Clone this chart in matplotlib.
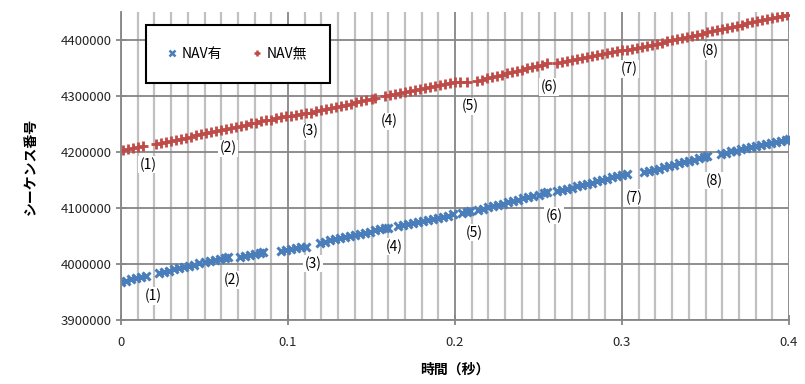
import numpy as np
import matplotlib as mpl
import matplotlib.pyplot as plt
from matplotlib.ticker import MultipleLocator

mpl.rcParams['font.family'] = ['Noto Sans CJK JP', 'DejaVu Sans']
mpl.rcParams['font.size'] = 9.5

# NAV有 (blue x), one row per burst
nav_on_t = [0.000, 0.003, 0.006, 0.009, 0.012, 0.015,
            0.023, 0.026, 0.029, 0.032, 0.035, 0.038, 0.041, 0.044, 0.047, 0.050, 0.053, 0.056, 0.059, 0.062, 0.064,
            0.071, 0.074, 0.077, 0.080, 0.083, 0.085,
            0.096, 0.099, 0.102, 0.105, 0.108, 0.111,
            0.119, 0.122, 0.125, 0.128, 0.131, 0.134, 0.137, 0.140, 0.143, 0.146, 0.149, 0.152, 0.155, 0.158, 0.160,
            0.166, 0.169, 0.172, 0.175, 0.178, 0.181, 0.184, 0.187, 0.190, 0.193, 0.196, 0.199, 0.204, 0.207, 0.209,
            0.214, 0.217, 0.220, 0.223, 0.226, 0.229, 0.232, 0.235, 0.238, 0.241, 0.244, 0.247, 0.250, 0.253, 0.255,
            0.261, 0.264, 0.267, 0.270, 0.273, 0.276, 0.279, 0.282, 0.285, 0.288, 0.291, 0.294, 0.297, 0.300, 0.303,
            0.313, 0.316, 0.319, 0.322, 0.325, 0.328, 0.331, 0.334, 0.337, 0.340, 0.343, 0.346, 0.349, 0.351,
            0.359, 0.362, 0.365, 0.368, 0.371, 0.374, 0.377, 0.380, 0.383, 0.386, 0.389, 0.392, 0.395, 0.398, 0.400]
nav_on_seq = [3968000, 3970000, 3972500, 3974500, 3977000, 3979000,
              3984000, 3986000, 3988000, 3990500, 3992500, 3994500, 3996500, 3998500, 4001000, 4003000, 4005000, 4007000, 4009000, 4011500, 4013000,
              4012000, 4014000, 4016000, 4018000, 4020000, 4021000,
              4024000, 4025500, 4027000, 4028500, 4030000, 4031000,
              4038000, 4040000, 4042000, 4044000, 4046000, 4048000, 4050000, 4052000, 4054000, 4056000, 4058000, 4060000, 4062000, 4064000, 4065000,
              4067000, 4069000, 4071000, 4073000, 4075000, 4077000, 4078500, 4080500, 4082500, 4084500, 4086500, 4088500, 4091500, 4093500, 4094500,
              4096000, 4098500, 4101000, 4103000, 4105500, 4107500, 4110000, 4112500, 4114500, 4117000, 4119500, 4121500, 4124000, 4126500, 4128000,
              4130000, 4132000, 4134500, 4136500, 4139000, 4141000, 4143000, 4145500, 4147500, 4150000, 4152000, 4154500, 4156500, 4159000, 4161000,
              4164000, 4166000, 4168500, 4170500, 4173000, 4175000, 4177000, 4179500, 4181500, 4184000, 4186000, 4188500, 4190500, 4192000,
              4197000, 4199000, 4201000, 4202500, 4204500, 4206500, 4208500, 4210500, 4212500, 4214500, 4216000, 4218000, 4220000, 4222000, 4223000]

# NAV無 (red +)
nav_off_t = [0.001, 0.004, 0.007, 0.010, 0.013,
             0.021, 0.024, 0.027, 0.030, 0.033, 0.036, 0.039, 0.042, 0.045, 0.048, 0.051, 0.054, 0.057, 0.060, 0.063,
             0.066, 0.069, 0.072, 0.075, 0.078, 0.081, 0.084, 0.087, 0.090, 0.093, 0.096, 0.099, 0.102, 0.105, 0.108,
             0.111, 0.114, 0.117, 0.120, 0.123, 0.126, 0.129, 0.132, 0.135, 0.138, 0.141, 0.144, 0.147, 0.150, 0.152,
             0.158, 0.161, 0.164, 0.167, 0.170, 0.173, 0.176, 0.179, 0.182, 0.185, 0.188, 0.191, 0.194, 0.197, 0.200, 0.203, 0.207,
             0.213, 0.216, 0.219, 0.222, 0.225, 0.228, 0.231, 0.234, 0.237, 0.240, 0.243, 0.246, 0.249, 0.252, 0.255,
             0.261, 0.264, 0.267, 0.270, 0.273, 0.276, 0.279, 0.282, 0.285, 0.288, 0.291, 0.294, 0.297, 0.300, 0.303, 0.306,
             0.309, 0.312, 0.315, 0.318, 0.321, 0.324, 0.327, 0.330, 0.333, 0.336, 0.339, 0.342, 0.345, 0.348, 0.351,
             0.354, 0.357, 0.360, 0.363, 0.366, 0.369, 0.372, 0.375, 0.378, 0.381, 0.384, 0.387, 0.390, 0.393, 0.396, 0.399]
nav_off_seq = [4203000, 4205000, 4206500, 4208500, 4210000,
               4213500, 4215500, 4217500, 4219500, 4221500, 4223500, 4225500, 4227500, 4229500, 4231500, 4233500, 4235500, 4237500, 4239500, 4241500,
               4243000, 4245000, 4247000, 4249000, 4251000, 4252500, 4254500, 4256500, 4258000, 4260000, 4262000, 4263500, 4264500, 4266000, 4267500,
               4269000, 4270500, 4272500, 4274500, 4276500, 4278500, 4280500, 4282500, 4284500, 4286500, 4288500, 4290500, 4292500, 4294500, 4296000,
               4299500, 4301500, 4303500, 4305000, 4307000, 4309000, 4311000, 4313000, 4314500, 4316500, 4318500, 4320000, 4321500, 4323000, 4324500, 4325000, 4325500,
               4327000, 4329000, 4331500, 4333500, 4336000, 4338000, 4340500, 4342500, 4345000, 4347000, 4349500, 4351500, 4354000, 4356000, 4358500,
               4359500, 4361000, 4363000, 4364500, 4366500, 4368000, 4370000, 4371500, 4373500, 4375000, 4377000, 4378500, 4380500, 4382000, 4383000, 4384000,
               4385500, 4387500, 4389500, 4391500, 4393500, 4395500, 4397500, 4399500, 4401500, 4403500, 4405500, 4407500, 4409500, 4411500, 4413500,
               4415500, 4417500, 4419500, 4421500, 4423500, 4425500, 4427500, 4429500, 4431500, 4433500, 4435500, 4437500, 4439000, 4441000, 4443000, 4445000]

# gap labels
gap_names = ['(1)', '(2)', '(3)', '(4)', '(5)', '(6)', '(7)', '(8)']
on_label_t = [0.0192, 0.0665, 0.1150, 0.1635, 0.2114, 0.2593, 0.3072, 0.3551]
on_label_seq = [3943000, 3971700, 4000400, 4030800, 4055900, 4086400, 4118600, 4149100]
off_label_t = [0.0162, 0.0641, 0.1132, 0.1605, 0.2090, 0.2563, 0.3042, 0.3527]
off_label_seq = [4177800, 4206500, 4236900, 4254800, 4281700, 4315800, 4348000, 4380300]

blue = '#4a7ebb'
red = '#be4b48'

fig = plt.figure(figsize=(8.05, 3.84), dpi=100)
ax = fig.add_axes([121/805, 1-320/384, 668/805, 308/384])

ax.plot(nav_on_t, nav_on_seq, ls='none', marker='x', ms=5.5, mew=2.2, color=blue, label='NAV有')
ax.plot(nav_off_t, nav_off_seq, ls='none', marker='+', ms=6.5, mew=2, color=red, label='NAV無')

for name, t, s in zip(gap_names, on_label_t, on_label_seq):
    ax.text(t, s, name, ha='center', va='center', fontsize=10, color='black',
            bbox=dict(facecolor='white', edgecolor='none', pad=1))
for name, t, s in zip(gap_names, off_label_t, off_label_seq):
    ax.text(t, s, name, ha='center', va='center', fontsize=10, color='black',
            bbox=dict(facecolor='white', edgecolor='none', pad=1))

ax.set_xlim(0, 0.4)
ax.set_ylim(3900000, 4450000)
ax.xaxis.set_major_locator(MultipleLocator(0.1))
ax.xaxis.set_minor_locator(MultipleLocator(0.01))
ax.yaxis.set_major_locator(MultipleLocator(100000))
ax.xaxis.set_major_formatter(mpl.ticker.FuncFormatter(lambda v, p: '0' if v == 0 else f'{v:g}'))
ax.yaxis.set_major_formatter(mpl.ticker.FuncFormatter(lambda v, p: f'{int(v)}'))

ax.grid(which='minor', axis='x', color='#c0c0c0', lw=1.6, zorder=0)
ax.grid(which='major', axis='x', color='#868686', lw=1.3, zorder=0)
ax.grid(which='major', axis='y', color='#868686', lw=1.3, zorder=0)
ax.set_axisbelow(True)

for side in ['top', 'right']:
    ax.spines[side].set_visible(False)
for side in ['left', 'bottom']:
    ax.spines[side].set_color('#868686')
    ax.spines[side].set_linewidth(1.3)

ax.tick_params(axis='both', which='major', direction='inout', length=7, width=1.3,
               color='#868686', labelcolor='#262626', labelsize=9.5)
ax.tick_params(axis='x', which='major', pad=8)
ax.tick_params(axis='both', which='minor', length=0)

ax.set_xlabel('時間（秒）', fontsize=10, fontweight='bold', labelpad=10)
ax.set_ylabel('シーケンス番号', fontsize=10, fontweight='bold', labelpad=16)

leg = ax.legend(loc='upper left', bbox_to_anchor=(146/805, 1-25/384), bbox_transform=fig.transFigure,
                ncol=2, frameon=True, fancybox=False, fontsize=10, borderpad=1.6,
                handlelength=0.6, handletextpad=0.4, columnspacing=2.2, borderaxespad=0)
leg.get_frame().set_edgecolor('black')
leg.get_frame().set_linewidth(1.5)
leg.get_frame().set_alpha(1)
for h in leg.legend_handles:
    h.set_markersize(5)
    h.set_markeredgewidth(1.8)

fig.savefig('out.png', dpi=100)
